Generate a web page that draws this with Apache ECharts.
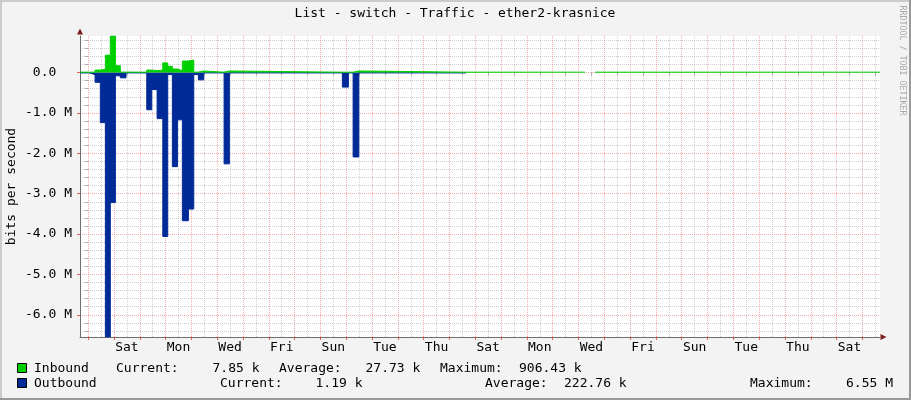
<!DOCTYPE html>
<html><head><meta charset="utf-8">
<script src="https://cdn.jsdelivr.net/npm/echarts@6/dist/echarts.min.js"></script>
<style>html,body{margin:0;padding:0;background:#f3f3f3}#c{width:911px;height:400px}</style>
</head><body><div id="c"></div><script>
// ---- text ----
const titleText = 'List - switch - Traffic - ether2-krasnice';
const yAxisName = 'bits per second';
const watermark = 'RRDTOOL / TOBI OETIKER';

// ---- data: hours since Friday 00:00 of week 1; each value holds until the next start ----
const segStart = [-7.6, 1.1, 6.4, 11.3, 16.0, 20.6, 25.3, 29.9, 35.2, 54.5, 59.1, 64.1, 69.4, 74.0, 78.3, 83.0, 87.6, 93.2, 98.2, 102.5, 107.5, 126.4, 131.3, 236.4, 242.0, 246.4, 251.7, 351.4, 462.1, 471.4];
const endHour = 736.4;
// inbound, k bits/s
const inboundK = [10, 10, 63, 80, 430, 906.43, 170, 12, 10, 63, 50, 60, 240, 155, 88, 47, 287, 310, 12, 40, 10, 40, 10, 10, 10, 40, 10, 10, null, 10];
// outbound, k bits/s (drawn below zero)
const outboundK = [8, 50, 240, 1240, 6550, 3220, 80, 130, 8, 920, 420, 1140, 4060, 50, 2330, 1170, 3670, 3380, 50, 180, 8, 2260, 8, 360, 8, 2090, 8, null, null, null];

// ---- axes ----
const xLabelHours = [36, 84, 132, 180, 228, 276, 324, 372, 420, 468, 516, 564, 612, 660, 708];
const xTickLabels = ['Sat','Mon','Wed','Fri','Sun','Tue','Thu','Sat','Mon','Wed','Fri','Sun','Tue','Thu','Sat'];
const yTickValues = [0, -1e6, -2e6, -3e6, -4e6, -5e6, -6e6];
const yTickLabels = ['0.0  ', '-1.0 M', '-2.0 M', '-3.0 M', '-4.0 M', '-5.0 M', '-6.0 M'];
const yMin = -6.55e6, yMax = 906430;
const xMin = -7.6, xMax = 736.4;

// ---- legend ----
const legendNames = ['Inbound', 'Outbound'];
const legendColors = ['#00CF00', '#002A97'];
const statCurrent = ['7.85 k', '1.19 k'];
const statAverage = ['27.73 k', '222.76 k'];
const statMaximum = ['906.43 k', '6.55 M'];

const MONO = '"DejaVu Sans Mono", monospace';

const dayLines = []; for (let h = 0; h <= xMax; h += 24) dayLines.push(h);
const halfDayLines = []; for (let h = 12; h <= xMax; h += 24) halfDayLines.push(h);
const yMinor = []; for (let k = -32; k <= 4; k++) if (k % 5 !== 0) yMinor.push(k * 2e5);

function build(vals, sign) {
  const out = [];
  for (let i = 0; i < segStart.length; i++) {
    const s = segStart[i], e = (i + 1 < segStart.length) ? segStart[i + 1] : endHour;
    const v = vals[i];
    if (v == null) { out.push([s, null]); }
    else { out.push([s, sign * v * 1000]); out.push([e, sign * v * 1000]); }
  }
  return out;
}

const majorSplit = {show: true, lineStyle: {color: 'rgba(235,90,90,0.5)', type: [1, 1], width: 1}};
const minorSplit = {show: true, lineStyle: {color: 'rgba(150,150,150,0.45)', type: [1, 1], width: 1}};

const chart = echarts.init(document.getElementById('c'), null, {renderer: 'canvas'});

function t(x, y, text, extra) {
  return Object.assign({type: 'text', x: x, y: y, silent: true,
    style: Object.assign({text: text, font: '13px ' + MONO, fill: '#000', align: 'left', verticalAlign: 'middle', textAlign: 'left', textVerticalAlign: 'middle'}, extra || {})});
}

const graphics = [
  {type: 'rect', shape: {x: 0, y: 0, width: 911, height: 2}, style: {fill: '#cbcbcb'}, silent: true},
  {type: 'rect', shape: {x: 0, y: 0, width: 2, height: 400}, style: {fill: '#cbcbcb'}, silent: true},
  {type: 'rect', shape: {x: 0, y: 398, width: 911, height: 2}, style: {fill: '#999999'}, silent: true},
  {type: 'rect', shape: {x: 909, y: 0, width: 2, height: 400}, style: {fill: '#999999'}, silent: true},
  t(455, 14, titleText, {align: 'center', textAlign: 'center'}),
  {type: 'text', x: 902.5, y: 60.5, rotation: -Math.PI / 2, silent: true,
   style: {text: watermark, font: '8.3px ' + MONO, fill: '#a8a8a8', align: 'center', verticalAlign: 'middle', textAlign: 'center', textVerticalAlign: 'middle'}}
];
const rowY = [368.5, 383.5];
const rowX = [
  [34, 116, 212.5, 279, 365.5, 440, 519],
  [34, 220, 315.5, 485, 564, 750, 846]
];
for (let r = 0; r < 2; r++) {
  graphics.push({type: 'rect', shape: {x: 17.5, y: rowY[r] - 5, width: 9, height: 9}, style: {fill: legendColors[r], stroke: '#000', lineWidth: 1}, silent: true});
  const xs = rowX[r];
  graphics.push(t(xs[0], rowY[r], legendNames[r]));
  graphics.push(t(xs[1], rowY[r], 'Current:'));
  graphics.push(t(xs[2], rowY[r], statCurrent[r]));
  graphics.push(t(xs[3], rowY[r], 'Average:'));
  graphics.push(t(xs[4], rowY[r], statAverage[r]));
  graphics.push(t(xs[5], rowY[r], 'Maximum:'));
  graphics.push(t(xs[6], rowY[r], statMaximum[r]));
}

chart.setOption({
  animation: false,
  backgroundColor: '#f3f3f3',
  grid: {left: 80, top: 36, width: 800, height: 301, show: true, backgroundColor: '#ffffff', borderWidth: 0,
         containLabel: false, outerBoundsMode: 'none'},
  graphic: graphics,
  xAxis: [
    {type: 'value', min: xMin, max: xMax, position: 'bottom',
     axisLine: {show: true, onZero: false, lineStyle: {color: '#6e6e6e', width: 1}},
     axisTick: {show: true, customValues: dayLines, length: 3, lineStyle: {color: 'rgba(220,60,60,0.8)'}},
     axisLabel: {show: true, customValues: xLabelHours, margin: 4, fontFamily: MONO, fontSize: 13, color: '#000',
       formatter: function (v) { const i = xLabelHours.findIndex(h => Math.abs(h - v) < 0.01); return i >= 0 ? xTickLabels[i] : ''; }},
     splitLine: majorSplit},
    {type: 'value', min: xMin, max: xMax, position: 'bottom',
     axisLine: {show: false},
     axisTick: {show: true, customValues: halfDayLines, length: 3, lineStyle: {color: '#aaaaaa'}},
     axisLabel: {show: false}, splitLine: minorSplit},
    {type: 'value', min: xMin, max: xMax, position: 'bottom',
     axisLine: {show: true, onZero: false, symbol: ['none', 'triangle'], symbolSize: [6, 6], symbolOffset: [0, 3.5],
       lineStyle: {color: '#7a1f1f', opacity: 0}},
     axisTick: {show: false}, axisLabel: {show: false}, splitLine: {show: false}}
  ],
  yAxis: [
    {type: 'value', min: yMin, max: yMax, position: 'left',
     axisLine: {show: true, onZero: false, lineStyle: {color: '#6e6e6e', width: 1}},
     axisTick: {show: true, customValues: yTickValues, length: 3, lineStyle: {color: 'rgba(220,60,60,0.8)'}},
     axisLabel: {show: true, customValues: yTickValues, margin: 8, fontFamily: MONO, fontSize: 13, color: '#000',
       formatter: function (v) { const i = yTickValues.findIndex(h => Math.abs(h - v) < 1); return i >= 0 ? yTickLabels[i] : ''; }},
     splitLine: majorSplit,
     name: yAxisName, nameLocation: 'middle', nameGap: 62, nameMoveOverlap: false,
     nameTextStyle: {fontFamily: MONO, fontSize: 13, color: '#000'}},
    {type: 'value', min: yMin, max: yMax, position: 'left',
     axisLine: {show: false},
     axisTick: {show: true, customValues: yMinor, length: 3, lineStyle: {color: '#aaaaaa'}},
     axisLabel: {show: false}, splitLine: minorSplit},
    {type: 'value', min: yMin, max: yMax, position: 'left',
     axisLine: {show: true, onZero: false, symbol: ['none', 'triangle'], symbolSize: [6, 6], symbolOffset: [0, 4.5],
       lineStyle: {color: '#7a1f1f', opacity: 0}},
     axisTick: {show: false}, axisLabel: {show: false}, splitLine: {show: false}}
  ],
  series: [
    {name: 'Outbound', type: 'line', xAxisIndex: 0, yAxisIndex: 0, data: build(outboundK, -1),
     symbol: 'none', silent: true, z: 3,
     lineStyle: {color: legendColors[1], width: 1}, areaStyle: {color: legendColors[1], opacity: 1, origin: 0}},
    {name: 'Inbound', type: 'line', xAxisIndex: 0, yAxisIndex: 0, data: build(inboundK, 1),
     symbol: 'none', silent: true, z: 4,
     lineStyle: {color: legendColors[0], width: 1}, areaStyle: {color: legendColors[0], opacity: 1, origin: 0}}
  ]
});
</script></body></html>
